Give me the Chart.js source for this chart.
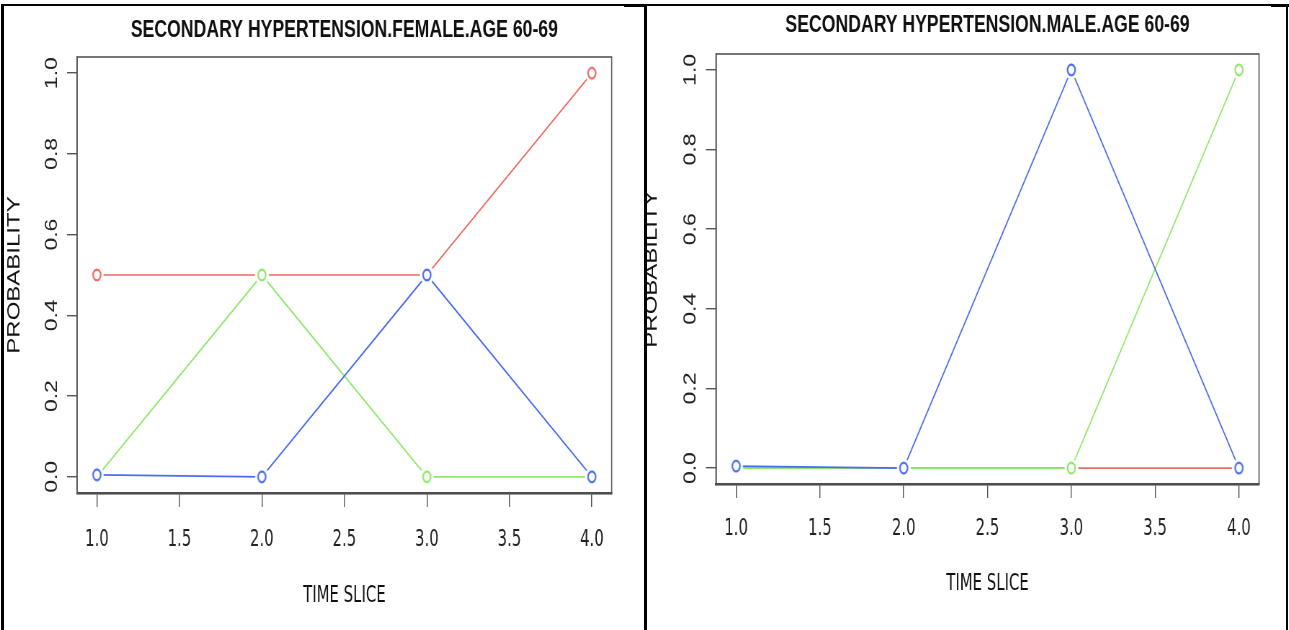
<!DOCTYPE html>
<html>
<head>
<meta charset="utf-8">
<script src="https://cdn.jsdelivr.net/npm/chart.js@4.4.1/dist/chart.umd.min.js"></script>
<style>
  html, body { margin: 0; padding: 0; background: #fff; }
  body { width: 1289px; height: 630px; position: relative; overflow: hidden; }
  .panel { position: absolute; top: 0; height: 630px; transform-origin: 0 0; }
  .rule { position: absolute; background: #000; z-index: 5; }
</style>
</head>
<body>
<div class="rule" style="left:1px;top:4px;width:1288px;height:2px"></div>
<div class="rule" style="left:624px;top:4px;width:21px;height:3px"></div>
<div class="rule" style="left:1271px;top:4px;width:18px;height:3px"></div>
<div class="rule" style="left:1px;top:4px;width:3px;height:626px"></div>
<div class="rule" style="left:644px;top:4px;width:3px;height:626px"></div>
<div class="rule" style="left:1286px;top:4px;width:2px;height:626px"></div>

<div class="panel" id="p0"><canvas id="c0"></canvas></div>
<div class="panel" id="p1"><canvas id="c1"></canvas></div>

<script>
// ---- data ----
const timeSlices = [1, 2, 3, 4];
const timeTicks = [1.0, 1.5, 2.0, 2.5, 3.0, 3.5, 4.0];
const probTicks = [0.0, 0.2, 0.4, 0.6, 0.8, 1.0];

const femaleRed   = [0.5, 0.5, 0.5, 1.0];
const femaleGreen = [0.0, 0.5, 0.0, 0.0];
const femaleBlue  = [0.005, 0.0, 0.5, 0.0];

const maleRed   = [0.0, 0.0, 0.0, 0.0];
const maleGreen = [0.0, 0.0, 0.0, 1.0];
const maleBlue  = [0.005, 0.0, 1.0, 0.0];

const titles = ['SECONDARY HYPERTENSION.FEMALE.AGE 60-69', 'SECONDARY HYPERTENSION.MALE.AGE 60-69'];
const xTitle = 'TIME SLICE';
const yTitle = 'PROBABILITY';

// ---- layout (real page pixels) ----
const S = 0.72; // horizontal squeeze of the original picture
const FONT = "'Liberation Sans', Arial, Helvetica, sans-serif";
const NARROW = "'Liberation Sans Narrow', 'Arial Narrow', 'DejaVu Sans Condensed', 'Liberation Sans', sans-serif";
const RED = '#EE6A62', GREEN = '#8FE86A', BLUE = '#4A6CF0';

// R "type = b" marker: open circle with a small gap in the line around it
function marker(color) {
  const c = document.createElement('canvas');
  c.width = 22; c.height = 22;
  const g = c.getContext('2d');
  g.fillStyle = '#fff';
  g.beginPath(); g.arc(11, 11, 9.5, 0, Math.PI * 2); g.fill();
  g.strokeStyle = color; g.lineWidth = 2.2;
  g.beginPath(); g.arc(11, 11, 5.3, 0, Math.PI * 2); g.stroke();
  return c;
}

const panels = [
  { el: 'p0', canvas: 'c0', left: 0, width: 645,
    area: { l: 77, r: 611, t: 57, b: 493 }, titleY: 30, xTitleY: 596, yTitleX: 15, xPad: 19, yPad: 4,
    series: [femaleBlue, femaleGreen, femaleRed], title: titles[0] },
  { el: 'p1', canvas: 'c1', left: 630, width: 659,
    area: { l: 86, r: 629, t: 54, b: 484 }, titleY: 25, xTitleY: 584, yTitleX: 22, xPad: 17, yPad: 5,
    series: [maleBlue, maleGreen, maleRed], title: titles[1] }
];

const frame = {
  id: 'frame',
  beforeDatasetsDraw(chart) {
    const a = chart.chartArea, ctx = chart.ctx;
    ctx.save();
    ctx.strokeStyle = '#555';
    ctx.lineWidth = 1.6;
    ctx.strokeRect(a.left, a.top, a.right - a.left, a.bottom - a.top);
    ctx.restore();
  }
};

panels.forEach(p => {
  const div = document.getElementById(p.el);
  const wU = p.width / S;
  div.style.left = p.left + 'px';
  div.style.width = wU + 'px';
  div.style.transform = 'scaleX(' + S + ')';

  const aL = p.area.l / S, aR = p.area.r / S;
  const titleSize = 24.5, titleLH = titleSize * 1.2;
  const xtSize = 23, xtLH = xtSize * 1.2;
  const ytSize = 24, ytLH = ytSize * 1.2;

  const colors = [BLUE, GREEN, RED];
  const datasets = p.series.map((vals, i) => ({
    data: timeSlices.map((x, j) => ({ x: x, y: vals[j] })),
    borderColor: colors[i],
    borderWidth: 1.7,
    pointStyle: marker(colors[i]),
    pointRadius: 9,
    tension: 0
  }));

  new Chart(document.getElementById(p.canvas), {
    type: 'line',
    data: { datasets },
    options: {
      responsive: true,
      maintainAspectRatio: false,
      animation: false,
      events: [],
      layout: { padding: { left: 0, top: 0, bottom: 0, right: wU - aR } },
      plugins: {
        legend: { display: false },
        tooltip: { enabled: false },
        title: {
          display: true, text: p.title, fullSize: false, color: '#111',
          font: { family: FONT, size: titleSize, weight: 'bold' },
          padding: { top: p.titleY - titleLH / 2, bottom: p.area.t - p.titleY - titleLH / 2 }
        }
      },
      scales: {
        x: {
          type: 'linear', min: 0.88, max: 4.12,
          afterBuildTicks: s => { s.ticks = timeTicks.map(v => ({ value: v })); },
          afterFit: s => { s.height = 630 - p.area.b; },
          grid: { display: true, drawOnChartArea: false, drawTicks: true, tickLength: 14, color: '#555', lineWidth: 1.4 },
          border: { display: true, color: '#333', width: 2.4 },
          ticks: { color: '#222', font: { family: NARROW, size: 23 }, padding: p.xPad,
                   callback: v => Number(v).toFixed(1), maxRotation: 0, minRotation: 0, autoSkip: false },
          title: { display: true, text: xTitle, color: '#111', font: { family: NARROW, size: xtSize },
                   padding: { top: 0, bottom: 630 - p.xTitleY - xtLH / 2 } }
        },
        y: {
          type: 'linear', min: -0.04, max: 1.04,
          afterBuildTicks: s => { s.ticks = probTicks.map(v => ({ value: v })); },
          afterFit: s => { s.width = aL; },
          grid: { display: true, drawOnChartArea: false, drawTicks: true, tickLength: 14, color: '#555', lineWidth: 1.4 },
          border: { display: true, color: '#444', width: 1.6 },
          ticks: { color: '#222', font: { family: FONT, size: 23 }, padding: p.yPad, crossAlign: 'center',
                   minRotation: 90, maxRotation: 90, autoSkip: false,
                   callback: v => Number(v).toFixed(1) },
          title: { display: true, text: yTitle, color: '#111', font: { family: FONT, size: ytSize },
                   padding: { top: p.yTitleX / S - ytLH / 2, bottom: 0 } }
        }
      }
    },
    plugins: [frame]
  });
});
</script>
</body>
</html>
